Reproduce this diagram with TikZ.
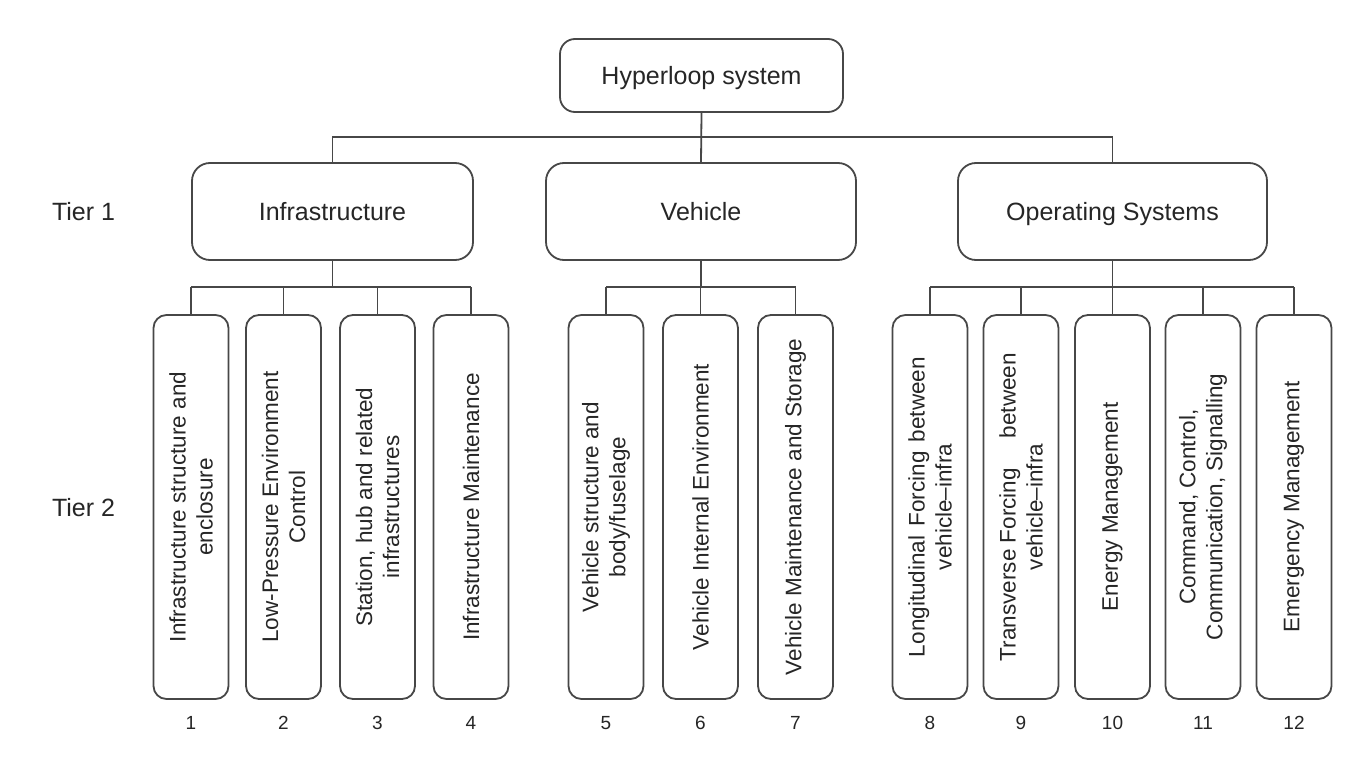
\documentclass[tikz,border=0pt]{standalone}
\usepackage{fontspec}
\setmainfont{Liberation Sans}
\begin{document}
\begin{tikzpicture}[x=1pt,y=-1pt,
  boxline/.style={draw=black!72, line width=1.8pt},
  conn/.style={draw=black!72, line width=1.8pt},
  topbox/.style={boxline, rounded corners=15pt, minimum width=283pt, minimum height=73pt, inner sep=0pt, text height=18pt, text depth=0pt, font=\fontsize{25}{30}\selectfont, text=black!85},
  tierone/.style={boxline, rounded corners=18pt, minimum height=97pt, inner sep=0pt, text height=18pt, text depth=0pt, font=\fontsize{25}{30}\selectfont, text=black!85},
  leaf/.style={boxline, rounded corners=13pt, rotate=90, minimum width=384pt, minimum height=75pt, inner sep=0pt, align=center, font=\fontsize{22.5}{27}\selectfont, text=black!85},
  num/.style={font=\fontsize{19}{22}\selectfont, text=black!85},
  tierlabel/.style={font=\fontsize{25}{30}\selectfont, text height=18pt, text depth=0pt, text=black!85}
]
\fill[white] (0,0) rectangle (1364,767);
\useasboundingbox (0,0) rectangle (1364,767);

% top and tier 1
\node[topbox] (top) at (701.5,75.5) {Hyperloop system};
\node[tierone, minimum width=281pt] (infra) at (332.5,211.5) {Infrastructure};
\node[tierone, minimum width=310pt] (veh) at (701,211.5) {Vehicle};
\node[tierone, minimum width=309pt] (ops) at (1112.5,211.5) {Operating Systems};

\node[tierlabel] (t1) at (83.5,212) {Tier 1};
\node[tierlabel] (t2) at (83.5,507) {Tier 2};

\coordinate (h0) at (0,137);
\coordinate (bar) at (0,287);

\draw[conn] (top.south) -- (veh.north);
\draw[conn] (infra.north) -- (infra.north |- h0) -- (ops.north |- h0) -- (ops.north);

% tier 2
\node[leaf] (b1) at (191,507) {Infrastructure structure and\\enclosure};
\node[leaf] (b2) at (283.5,507) {Low-Pressure Environment\\Control};
\node[leaf] (b3) at (377.5,507) {Station, hub and related\\infrastructures};
\node[leaf] (b4) at (471,507) {Infrastructure Maintenance};
\node[leaf] (b5) at (606,507) {Vehicle structure and\\body/fuselage};
\node[leaf] (b6) at (700.5,507) {Vehicle Internal Environment};
\node[leaf] (b7) at (795.5,507) {Vehicle Maintenance and Storage};
\node[leaf] (b8) at (930,507) {\makebox[300pt][s]{Longitudinal Forcing between}\\vehicle\textendash infra};
\node[leaf] (b9) at (1021,507) {\makebox[308pt][s]{Transverse Forcing\hspace{0pt plus 1fil}between}\\vehicle\textendash infra};
\node[leaf] (b10) at (1112.5,507) {Energy Management};
\node[leaf] (b11) at (1203,507) {Command, Control,\\Communication, Signalling};
\node[leaf] (b12) at (1294,507) {Emergency Management};

% connectors tier 1 -> tier 2
\draw[conn] (infra.south) -- (infra.south |- bar);
\draw[conn] (b1.east |- bar) -- (b4.east |- bar);
\foreach \b in {b1,b2,b3,b4} \draw[conn] (\b.east) -- (\b.east |- bar);

\draw[conn] (veh.south) -- (veh.south |- bar);
\draw[conn] (b5.east |- bar) -- (b7.east |- bar);
\foreach \b in {b5,b6,b7} \draw[conn] (\b.east) -- (\b.east |- bar);

\draw[conn] (ops.south) -- (ops.south |- bar);
\draw[conn] (b8.east |- bar) -- (b12.east |- bar);
\foreach \b in {b8,b9,b10,b11,b12} \draw[conn] (\b.east) -- (\b.east |- bar);

% numbers
\foreach \i/\x in {1/191,2/283.5,3/377.5,4/471,5/606,6/700.5,7/795.5,8/930,9/1021,10/1112.5,11/1203,12/1294}
  \node[num] (n\i) at (\x,723) {\i};
\end{tikzpicture}
\end{document}
